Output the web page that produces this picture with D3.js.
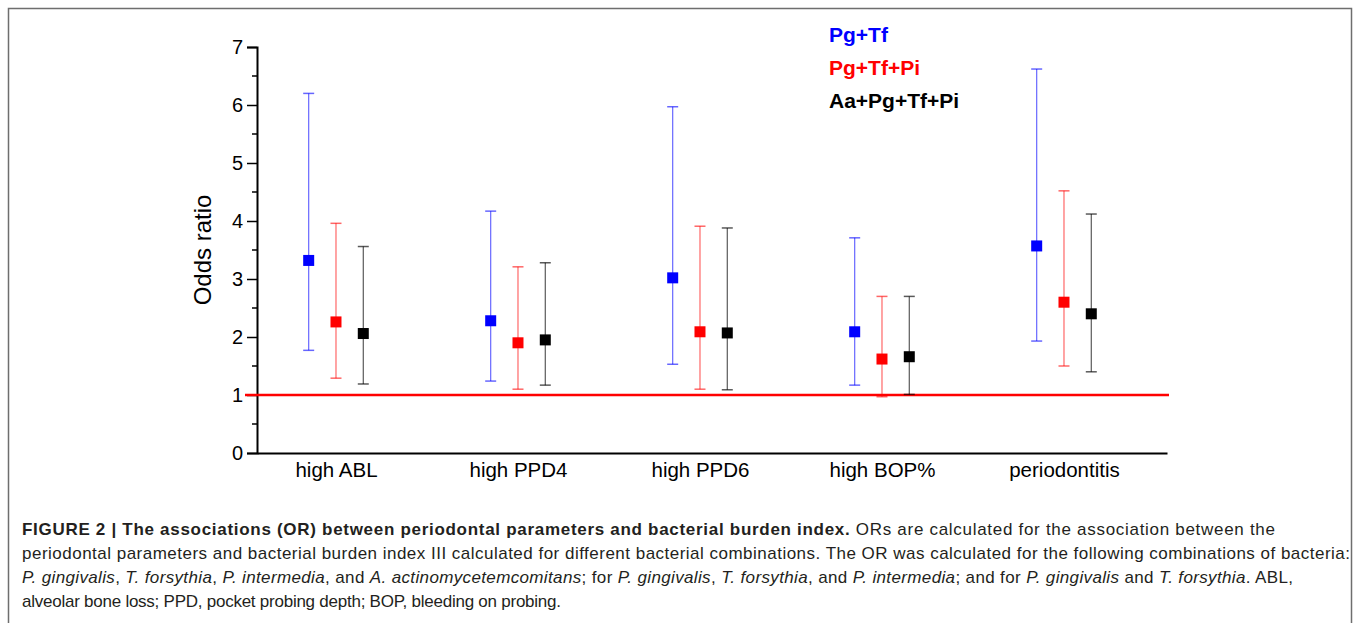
<!DOCTYPE html>
<html>
<head>
<meta charset="utf-8">
<script src="https://cdn.jsdelivr.net/npm/d3@7"></script>
<style>
  body { margin: 0; background: #fff; }
  svg { display: block; font-family: "Liberation Sans", Arial, sans-serif; }
</style>
</head>
<body>
<div class="chart"></div>
<script>
// values
const categories = ["high ABL", "high PPD4", "high PPD6", "high BOP%", "periodontitis"];
const seriesNames = ["Pg+Tf", "Pg+Tf+Pi", "Aa+Pg+Tf+Pi"];
const seriesColors = ["#0000ff", "#ff0000", "#000000"];

const pgTfOR   = [3.32, 2.28, 3.02, 2.09, 3.57];
const pgTfLow  = [1.77, 1.24, 1.53, 1.17, 1.93];
const pgTfHigh = [6.20, 4.17, 5.97, 3.71, 6.62];

const pgTfPiOR   = [2.26, 1.90, 2.09, 1.62, 2.60];
const pgTfPiLow  = [1.29, 1.10, 1.10, 0.97, 1.50];
const pgTfPiHigh = [3.96, 3.21, 3.91, 2.70, 4.52];

const allOR   = [2.06, 1.95, 2.07, 1.66, 2.40];
const allLow  = [1.19, 1.17, 1.09, 1.01, 1.40];
const allHigh = [3.56, 3.28, 3.88, 2.70, 4.12];

const yTicks = [0, 1, 2, 3, 4, 5, 6, 7];
const refOR = 1;

const captionLines = [
  [["b", "FIGURE 2 | The associations (OR) between periodontal parameters and bacterial burden index."],
   ["", " ORs are calculated for the association between the"]],
  [["", "periodontal parameters and bacterial burden index III calculated for different bacterial combinations. The OR was calculated for the following combinations of bacteria:"]],
  [["i", "P. gingivalis"], ["", ", "], ["i", "T. forsythia"], ["", ", "], ["i", "P. intermedia"], ["", ", and "],
   ["i", "A. actinomycetemcomitans"], ["", "; for "], ["i", "P. gingivalis"], ["", ", "], ["i", "T. forsythia"],
   ["", ", and "], ["i", "P. intermedia"], ["", "; and for "], ["i", "P. gingivalis"], ["", " and "],
   ["i", "T. forsythia"], ["", ". ABL,"]],
  [["", "alveolar bone loss; PPD, pocket probing depth; BOP, bleeding on probing."]]
];
const captionEnds = [1275, 1350, 1293, 561];

const series = [
  {name: seriesNames[0], or: pgTfOR, lo: pgTfLow, hi: pgTfHigh, shift: -0.15},
  {name: seriesNames[1], or: pgTfPiOR, lo: pgTfPiLow, hi: pgTfPiHigh, shift: 0},
  {name: seriesNames[2], or: allOR, lo: allLow, hi: allHigh, shift: 0.15}
];

const W = 1358, H = 623;
const svg = d3.select(".chart").append("svg")
    .attr("width", W)
    .attr("height", H);

// figure frame
svg.append("rect")
    .attr("x", 8.5).attr("y", 8.5)
    .attr("width", 1343).attr("height", 700)
    .attr("fill", "none")
    .attr("stroke", "#6e6e6e")
    .attr("stroke-width", 1.5);

const x = d3.scaleLinear().domain([0.566, 5.566]).range([257, 1167]);
const y = d3.scaleLinear().domain([0, 7]).range([453, 47]);

// y axis with half-unit minor ticks
const yAxis = svg.append("g")
    .attr("transform", "translate(257,0)")
    .call(d3.axisLeft(y).tickValues(yTicks).tickSize(10).tickPadding(4).tickFormat(d3.format("d")));
yAxis.selectAll(".tick text").attr("font-size", 20).attr("font-family", "Liberation Sans, Arial, sans-serif").attr("fill", "#000");
yAxis.select(".domain").attr("stroke-width", 2);
yAxis.selectAll(".tick line").attr("stroke-width", 1.5);
svg.append("g")
    .selectAll("line")
    .data(yTicks.slice(0, -1).map(d => d + 0.5))
    .enter()
    .append("line")
    .attr("x1", 252).attr("x2", 257)
    .attr("y1", d => y(d)).attr("y2", d => y(d))
    .attr("stroke", "#000")
    .attr("stroke-width", 1.5);

// x axis, category labels only
const xAxis = svg.append("g")
    .attr("transform", "translate(0,453)")
    .call(d3.axisBottom(x).tickValues(d3.range(1, categories.length + 1))
        .tickSize(0).tickPadding(9).tickFormat(d => categories[d - 1]));
xAxis.selectAll(".tick text").attr("font-size", 20.5).attr("font-family", "Liberation Sans, Arial, sans-serif").attr("fill", "#000");
xAxis.select(".domain").attr("stroke-width", 2);

svg.append("text")
    .attr("transform", "translate(211," + y(3.5) + ") rotate(-90)")
    .attr("text-anchor", "middle")
    .attr("font-size", 24)
    .text("Odds ratio");

// reference line at OR = 1
svg.append("line")
    .attr("x1", 245).attr("x2", 1169)
    .attr("y1", y(refOR)).attr("y2", y(refOR))
    .attr("stroke", "#ff0000")
    .attr("stroke-width", 2.5);

// error bars and points
series.forEach((s, k) => {
    const g = svg.append("g");
    const pts = categories.map((c, i) => ({pos: i + 1 + s.shift, or: s.or[i], lo: s.lo[i], hi: s.hi[i]}));
    const col = seriesColors[k];
    const op = k === 2 ? 0.65 : 0.6;

    g.selectAll(".whisker").data(pts).enter().append("line")
        .attr("x1", d => x(d.pos)).attr("x2", d => x(d.pos))
        .attr("y1", d => y(d.lo)).attr("y2", d => y(d.hi))
        .attr("stroke", col).attr("stroke-opacity", op).attr("stroke-width", 1.2);

    ["lo", "hi"].forEach(end => {
        g.selectAll(".cap-" + end).data(pts).enter().append("line")
            .attr("x1", d => x(d.pos) - 5.5).attr("x2", d => x(d.pos) + 5.5)
            .attr("y1", d => y(d[end])).attr("y2", d => y(d[end]))
            .attr("stroke", col).attr("stroke-opacity", op).attr("stroke-width", 1.5);
    });

    g.selectAll("rect").data(pts).enter().append("rect")
        .attr("x", d => x(d.pos) - 5.5).attr("y", d => y(d.or) - 5.5)
        .attr("width", 11).attr("height", 11)
        .attr("fill", col);
});

// legend
svg.append("g")
    .selectAll("text")
    .data(seriesNames)
    .enter()
    .append("text")
    .attr("x", 829)
    .attr("y", (d, i) => 42 + i * 33)
    .attr("font-size", 21)
    .attr("font-weight", "bold")
    .attr("fill", (d, i) => seriesColors[i])
    .text(d => d);

// caption
captionLines.forEach((parts, i) => {
    const t = svg.append("text")
        .attr("x", 22)
        .attr("y", 535 + i * 24)
        .attr("font-size", 17)
        .attr("fill", "#231f20")
        .attr("textLength", captionEnds[i] - 22)
        .attr("lengthAdjust", "spacing");
    parts.forEach(p => {
        t.append("tspan")
            .attr("font-weight", p[0] === "b" ? "bold" : null)
            .attr("font-style", p[0] === "i" ? "italic" : null)
            .text(p[1]);
    });
});
</script>
</body>
</html>
